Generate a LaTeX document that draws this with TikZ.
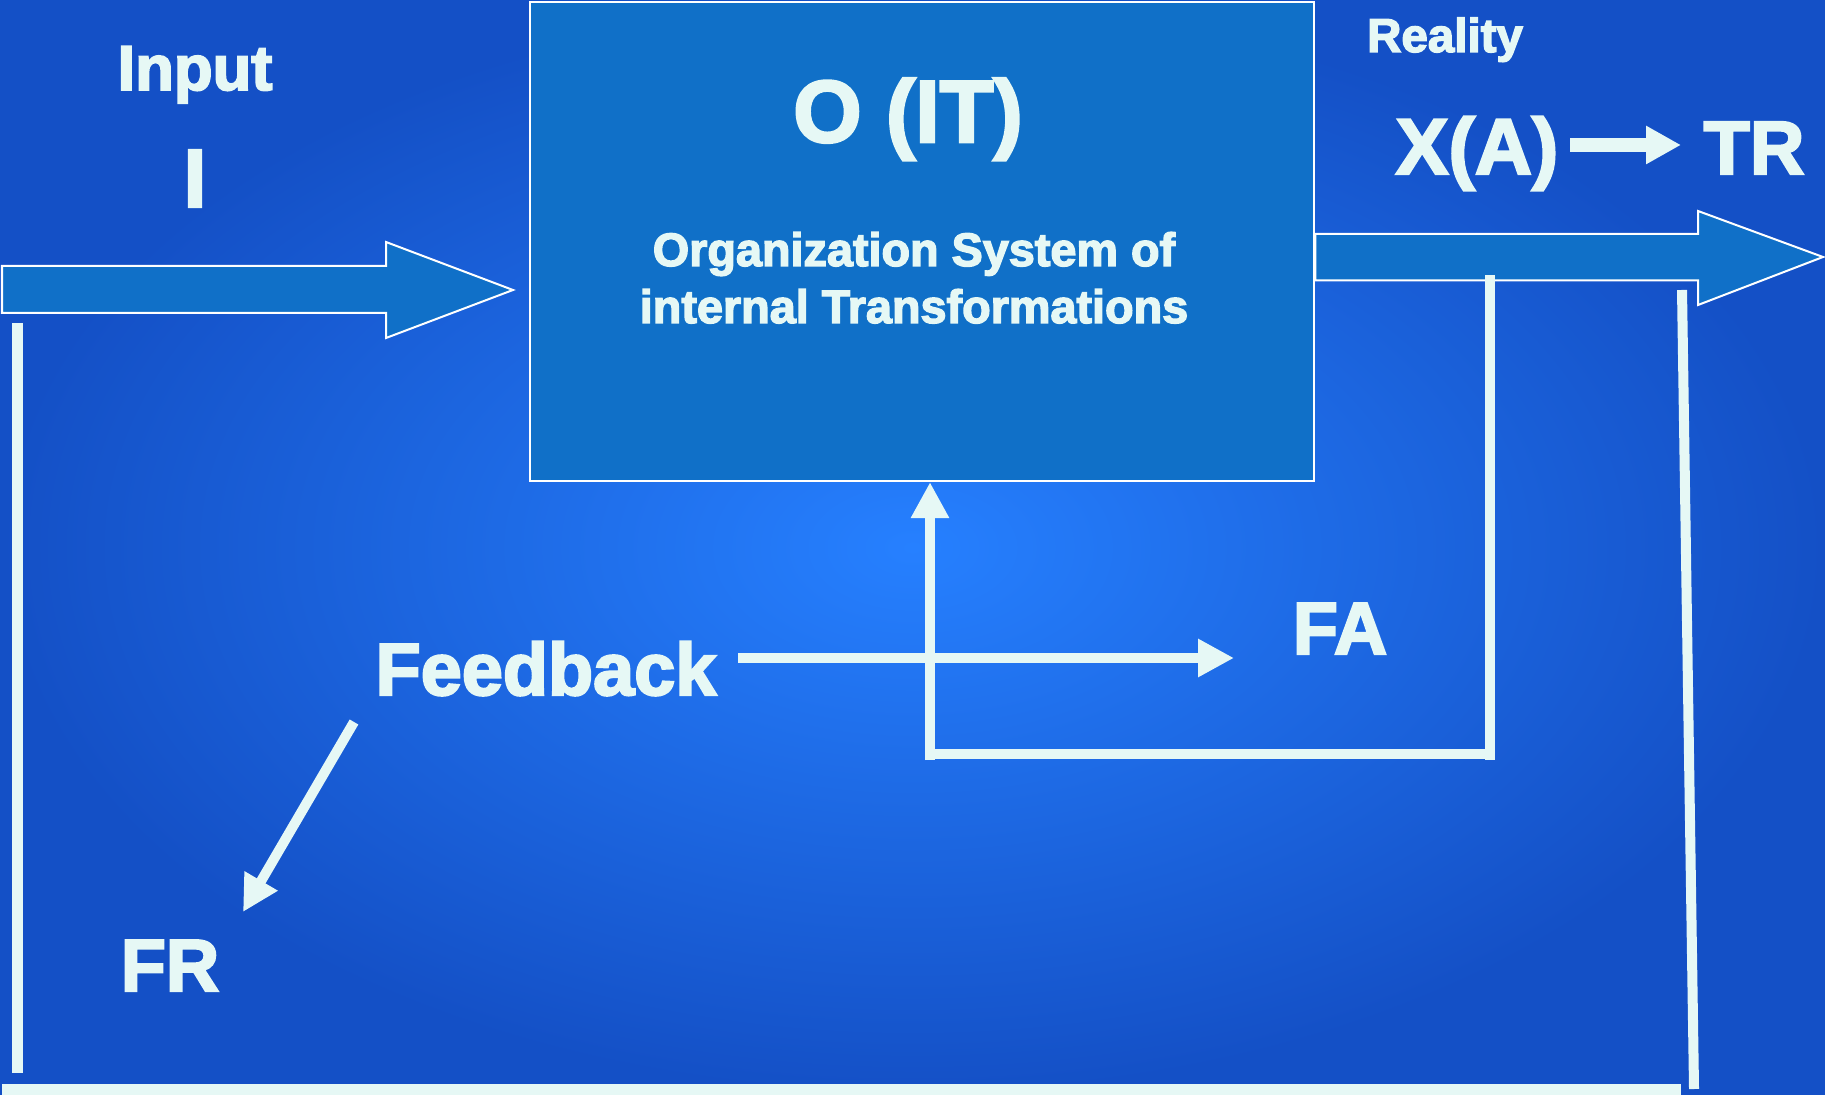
\documentclass[tikz,border=0pt]{standalone}
\usepackage{fontspec}
\setmainfont{Liberation Sans}[BoldFeatures={FakeBold=3}]
\usetikzlibrary{arrows.meta}
\definecolor{bgin}{RGB}{38,128,255}
\definecolor{bgout}{RGB}{20,80,198}
\definecolor{boxblue}{RGB}{16,112,200}
\definecolor{ink}{RGB}{230,248,245}

\begin{document}
\begin{tikzpicture}[x=0.01cm, y=-0.01cm,
  lbl/.style={text=ink, anchor=base, inner sep=0pt, font=\bfseries\fontsize{#1}{#1}\selectfont},
  wline/.style={draw=ink, line width=1mm},
  wtip/.style={-{Triangle[length=3.6mm, width=3.6mm]}},
  fat/.style={draw=white, line width=0.2mm, fill=boxblue}]

% background
\useasboundingbox (0,0) rectangle (1825,1095);
\shade[inner color=bgin, outer color=bgout] (0,0) rectangle (1825,1095);

% organisation box
\node[fat, minimum width=7.84cm, minimum height=4.79cm, inner sep=0pt] (org) at (922,241.5) {};
\node[lbl=25] (oit) at (908,142) {O (IT)};
\node[lbl=13.3] (orgA) at (914,266) {Organization System of};
\node[lbl=13.3] (orgB) at (914,323) {internal Transformations};

% input and output arrows
\draw[fat] (2,266) -- (386,266) -- (386,242) -- (513,290) -- (386,338) -- (386,313) -- (2,313) -- cycle;
\draw[fat] (org.east |- 0,234) -- (1698,234) -- (1698,211) -- (1823,257) -- (1698,305) -- (1698,280.5) -- (org.east |- 0,280.5) -- cycle;

% labels
\node[lbl=18] (input) at (195,90) {Input};
\node[lbl=23.5] (inI) at (195,207) {I};
\node[lbl=13.5] (reality) at (1445,52) {Reality};
\node[lbl=22.5] (xa) at (1477,174) {X(A)};
\node[lbl=21.5] (tr) at (1754,174) {TR};
\node[lbl=21] (feedback) at (546,695) {Feedback};
\node[lbl=21] (fa) at (1340,654) {FA};
\node[lbl=21] (fr) at (170,991) {FR};

\coordinate (xaOut) at (1570,145);
\coordinate (trIn) at (1681,145);
\draw[draw=ink, line width=1.4mm, -{Triangle[length=3.5mm, width=3.6mm]}] (xaOut) -- (trIn);

% outer frame lines
\coordinate (leftTop) at (17.5,323);
\coordinate (leftBot) at (17.5,1073);
\coordinate (baseL) at (2,1089.5);
\coordinate (baseR) at (1681,1089.5);
\coordinate (rightTop) at (1682,290);
\coordinate (rightBot) at (1694,1089);
\draw[wline] (leftTop) -- (leftBot);
\draw[draw=ink, line width=1.1mm] (baseL) -- (baseR);
\draw[wline] (rightTop) -- (rightBot);

% feedback loop
\coordinate (tapTop) at (1490,275);
\coordinate (tapBot) at (1490,760);
\coordinate (loopR) at (1490,754);
\coordinate (loopL) at (930,754);
\coordinate (loopLB) at (930,760);
\draw[wline] (tapTop) -- (tapBot);
\draw[wline] (loopR) -- (loopL);
\draw[wline, wtip] (loopLB) -- (loopL |- org.south);

% feedback arrows
\coordinate (fbOut) at (738,658);
\coordinate (faIn) at (1234,658);
\coordinate (frOut) at (354,722);
\coordinate (frIn) at (243,912);
\draw[wline, wtip] (fbOut) -- (faIn);
\draw[wline, wtip] (frOut) -- (frIn);

\end{tikzpicture}
\end{document}
